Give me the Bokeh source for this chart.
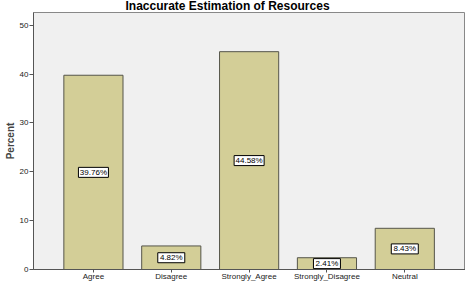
from bokeh.plotting import figure
from bokeh.models import ColumnDataSource, FixedTicker, Range1d
from bokeh.core.properties import value
from bokeh.embed import file_html
from bokeh.resources import INLINE

categories = ["Agree", "Disagree", "Strongly_Agree", "Strongly_Disagree", "Neutral"]
percents = [39.76, 4.82, 44.58, 2.41, 8.43]
label_texts = ["39.76%", "4.82%", "44.58%", "2.41%", "8.43%"]
title_text = "Inaccurate Estimation of Resources"
y_ticks = [0, 10, 20, 30, 40, 50]

xs = list(range(len(categories)))
src = ColumnDataSource(dict(
    x=xs, top=percents, mid=[v / 2 for v in percents], txt=label_texts,
    boxw=[3 * len(t) + 12 for t in label_texts],
))

p = figure(width=465, height=283, output_backend="svg", toolbar_location=None,
           x_range=Range1d(-0.77, 4.78), y_range=Range1d(0, 52.6),
           title=title_text,
           min_border_left=33, min_border_right=0, min_border_top=0, min_border_bottom=0)
p.background_fill_color = "#F0F0F0"
p.border_fill_color = "white"
p.outline_line_color = "#888888"
p.outline_line_width = 1
p.grid.visible = False

p.title.text_font = "Liberation Sans"
p.title.text_font_style = "bold"
p.title.text_font_size = "12px"
p.title.text_color = "black"
p.title.align = "left"
p.title.offset = 92
p.title.standoff = -4
p.title.vertical_align = "top"
p.title.text_line_height = 0.8

p.vbar(x="x", top="top", bottom=0, width=0.76, source=src,
       fill_color="#D3CE97", line_color="#55554a", line_width=1)

p.rect(x="x", y="mid", width="boxw", height=10, width_units="screen", height_units="screen",
       source=src, fill_color="white", line_color="black", line_width=1)
p.text(x="x", y="mid", text="txt", source=src, text_align="center", text_baseline="middle",
       text_font=value("Liberation Sans"), text_font_size="8px", text_color="black")

# axes
p.xaxis.ticker = FixedTicker(ticks=xs)
p.xaxis.major_label_overrides = {i: c for i, c in enumerate(categories)}
p.xaxis.major_tick_in = 0
p.xaxis.major_tick_out = 3
p.xaxis.minor_tick_line_color = None
p.xaxis.axis_line_color = "#555555"
p.xaxis.major_tick_line_color = "#555555"
p.xaxis.major_label_text_font = "Liberation Sans"
p.xaxis.major_label_text_font_size = "8px"
p.xaxis.major_label_text_color = "#222222"
p.xaxis.major_label_standoff = -1

p.yaxis.ticker = FixedTicker(ticks=y_ticks)
p.yaxis.major_tick_in = 0
p.yaxis.major_tick_out = 4
p.yaxis.minor_tick_line_color = None
p.yaxis.axis_line_color = "#555555"
p.yaxis.major_tick_line_color = "#555555"
p.yaxis.major_label_text_font = "Liberation Sans"
p.yaxis.major_label_text_font_size = "8px"
p.yaxis.major_label_text_color = "#222222"
p.yaxis.major_label_standoff = 1
p.yaxis.axis_label = "Percent"
p.yaxis.axis_label_text_font = "Liberation Sans"
p.yaxis.axis_label_text_font_style = "bold"
p.yaxis.axis_label_text_font_size = "10px"
p.yaxis.axis_label_standoff = 1

open("out.html", "w").write(file_html(p, INLINE))
